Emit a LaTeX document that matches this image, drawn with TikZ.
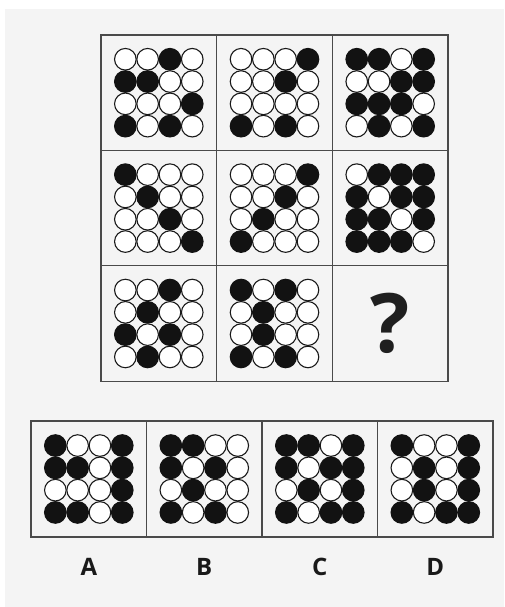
\documentclass[tikz,border=0pt]{standalone}
\usepackage{fontspec}
\setmainfont{Open Sans}
\usetikzlibrary{positioning}

\definecolor{paper}{HTML}{F4F4F4}
\definecolor{frame}{HTML}{4A4A4A}

% draws the 4x4 beads of a panel, one row per group
\newcommand{\beadpanel}[2]{%
  \foreach \row [count=\j] in {#2} {
    \foreach \v [count=\i] in \row {
      \draw[bead\v] ([shift={({(\i-2.5)*22.3},{(\j-2.5)*22.3})}]#1.center) circle[radius=10.8pt];
    }
  }%
}

\begin{document}
\begin{tikzpicture}[
    x=1pt, y=-1pt,
    node distance=0pt,
    cell/.style={rectangle, draw=frame, line width=1.3pt, minimum width=115.7pt, minimum height=115.4pt, inner sep=0pt, outer sep=0pt},
    pick/.style={cell, minimum width=115.5pt, minimum height=116pt},
    bead0/.style={fill=white, draw=black!90, line width=1.1pt},
    bead1/.style={fill=black!93, draw=black!93, line width=1.1pt},
    letter/.style={font=\fontsize{24}{24}\selectfont\bfseries, text=black!90, inner sep=0pt},
    qmark/.style={font=\fontsize{82}{82}\selectfont\bfseries, text=black!88}
    ]

    \useasboundingbox (0,0) rectangle (504,607);
    \fill[paper] (5,9) rectangle (504,607);

    % Nodes
    \node[cell] (c11) at (158.8,92.7) {};
    \node[cell, right=of c11] (c12) {};
    \node[cell, right=of c12] (c13) {};
    \node[cell, below=of c11] (c21) {};
    \node[cell, right=of c21] (c22) {};
    \node[cell, right=of c22] (c23) {};
    \node[cell, below=of c21] (c31) {};
    \node[cell, right=of c31] (c32) {};
    \node[cell, right=of c32, qmark] (c33) {?};

    \node[pick] (optA) at (88.8,479) {};
    \node[pick, right=of optA] (optB) {};
    \node[pick, right=of optB] (optC) {};
    \node[pick, right=of optC] (optD) {};

    \node[letter, below=30pt of optA.south, anchor=center] (labA) {A};
    \node[letter, below=30pt of optB.south, anchor=center] (labB) {B};
    \node[letter, below=30pt of optC.south, anchor=center] (labC) {C};
    \node[letter, below=30pt of optD.south, anchor=center] (labD) {D};

    % Question grid
    \beadpanel{c11}{{0,0,1,0},{1,1,0,0},{0,0,0,1},{1,0,1,0}}
    \beadpanel{c12}{{0,0,0,1},{0,0,1,0},{0,0,0,0},{1,0,1,0}}
    \beadpanel{c13}{{1,1,0,1},{0,0,1,1},{1,1,1,0},{0,1,0,1}}

    \beadpanel{c21}{{1,0,0,0},{0,1,0,0},{0,0,1,0},{0,0,0,1}}
    \beadpanel{c22}{{0,0,0,1},{0,0,1,0},{0,1,0,0},{1,0,0,0}}
    \beadpanel{c23}{{0,1,1,1},{1,0,1,1},{1,1,0,1},{1,1,1,0}}

    \beadpanel{c31}{{0,0,1,0},{0,1,0,0},{1,0,1,0},{0,1,0,0}}
    \beadpanel{c32}{{1,0,1,0},{0,1,0,0},{0,1,0,0},{1,0,1,0}}

    % Options
    \beadpanel{optA}{{1,0,0,1},{1,1,0,1},{0,0,0,1},{1,1,0,1}}
    \beadpanel{optB}{{1,1,0,0},{1,0,1,0},{0,1,0,0},{1,0,1,0}}
    \beadpanel{optC}{{1,1,0,1},{1,0,1,1},{0,1,0,1},{1,0,1,1}}
    \beadpanel{optD}{{1,0,0,1},{0,1,0,1},{0,1,0,1},{1,0,1,1}}

\end{tikzpicture}
\end{document}
